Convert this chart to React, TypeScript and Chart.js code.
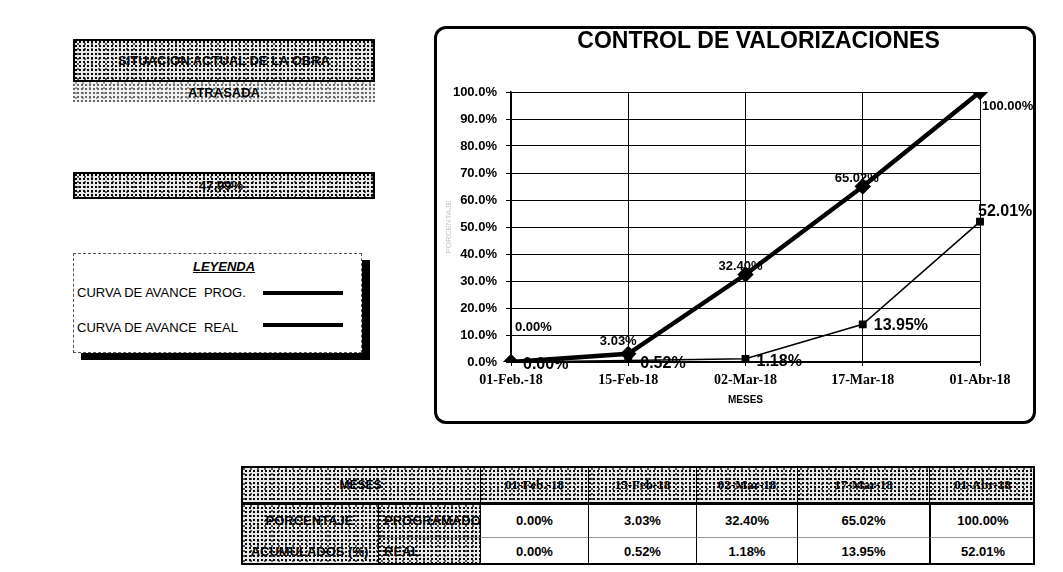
import React, { useEffect, useRef } from "react";
import { Chart, registerables } from "chart.js";

Chart.register(...registerables);

// ---------- data ----------
const categories = ["01-Feb.-18", "15-Feb-18", "02-Mar-18", "17-Mar-18", "01-Abr-18"];
const progValues = [0, 3.03, 32.4, 65.02, 100.0];
const realValues = [0, 0.52, 1.18, 13.95, 52.01];
const yMin = 0;
const yMax = 100;
const yStep = 10;
const chartTitle = "CONTROL DE VALORIZACIONES";
const xTitle = "MESES";
const yTitle = "PORCENTAJE";
const seriesNames = ["CURVA DE AVANCE  PROG.", "CURVA DE AVANCE  REAL"];
const legendTitle = "LEYENDA";
const statusTitle = "SITUACIÓN ACTUAL DE LA OBRA";
const statusValue = "ATRASADA";
const delayValue = "47.99%";
const tableHeader = "MESES";
const rowGroupLabel = ["PORCENTAJE", "ACUMULADOS (%)"];
const rowLabels = ["PROGRAMADO", "REAL"];

const SANS = "'Liberation Sans', Arial, sans-serif";
const SERIF = "'Liberation Serif', 'Times New Roman', serif";

const pct2 = (v: number) => v.toFixed(2) + "%";

// label placement relative to each point (dx, dy, alignment, font size)
const labelPlacement = [
  [
    { dx: 4, dy: -35, align: "left", size: 13 },
    { dx: -10, dy: -12, align: "center", size: 13 },
    { dx: -5, dy: -8, align: "center", size: 13 },
    { dx: -6, dy: -8, align: "center", size: 13 },
    { dx: 2, dy: 14, align: "left", size: 13 },
  ],
  [
    { dx: 12, dy: 3, align: "left", size: 16 },
    { dx: 12, dy: 3, align: "left", size: 16 },
    { dx: 11, dy: 3, align: "left", size: 16 },
    { dx: 11, dy: 1, align: "left", size: 16 },
    { dx: -2, dy: -10, align: "left", size: 16 },
  ],
];

const valueLabels = {
  id: "valueLabels",
  afterDatasetsDraw(chart: any) {
    const ctx = chart.ctx;
    ctx.save();
    ctx.fillStyle = "#000";
    ctx.textBaseline = "middle";
    chart.data.datasets.forEach((ds: any, di: number) => {
      const meta = chart.getDatasetMeta(di);
      meta.data.forEach((pt: any, i: number) => {
        const p = labelPlacement[di][i];
        ctx.font = `bold ${p.size}px ${SANS}`;
        ctx.textAlign = p.align;
        ctx.fillText(pct2(ds.data[i]), pt.x + p.dx, pt.y + p.dy);
      });
    });
    const ca = chart.chartArea;
    ctx.font = `bold 23px ${SANS}`;
    ctx.textAlign = "center";
    ctx.fillText(chartTitle, (ca.left + ca.right) / 2 + 13, 15);
    ctx.restore();
  },
};

const NOISE =
  "radial-gradient(circle at 1px 1px, #000 0.7px, transparent 1.1px) 0 0 / 4px 4px, " +
  "radial-gradient(circle at 1px 1px, #222 0.6px, transparent 1px) 2px 2px / 7px 5px, #e8e8e8";

function ChartBox() {
  const ref = useRef<HTMLCanvasElement | null>(null);
  useEffect(() => {
    if (!ref.current) return;
    const chart = new Chart(ref.current, {
      type: "line",
      data: {
        labels: categories,
        datasets: [
          {
            label: seriesNames[0],
            data: progValues,
            borderColor: "#000",
            backgroundColor: "#000",
            borderWidth: 4.5,
            pointStyle: "rectRot",
            pointRadius: 5,
            pointBackgroundColor: "#000",
            pointBorderColor: "#000",
            tension: 0,
          },
          {
            label: seriesNames[1],
            data: realValues,
            borderColor: "#000",
            backgroundColor: "#000",
            borderWidth: 1.5,
            pointStyle: "rect",
            pointRadius: 4.5,
            pointBackgroundColor: "#000",
            pointBorderColor: "#000",
            tension: 0,
          },
        ],
      },
      options: {
        animation: false,
        responsive: false,
        maintainAspectRatio: false,
        layout: { padding: { left: 0, right: 55, top: 65, bottom: 0 } },
        plugins: {
          legend: { display: false },
          tooltip: { enabled: false },
          title: { display: false },
        },
        scales: {
          x: {
            offset: false,
            grid: { color: "#000", lineWidth: 1, tickLength: 4 },
            border: { color: "#000", width: 1.5 },
            ticks: {
              color: "#000",
              font: { family: SERIF, size: 14, weight: "bold" },
              padding: 6,
              maxRotation: 0,
              autoSkip: false,
            },
            title: {
              display: true,
              text: xTitle,
              color: "#000",
              font: { family: SANS, size: 10, weight: "bold" },
              padding: { top: 0, bottom: 17 },
            },
            afterFit: (s: any) => {
              s.height = 61;
            },
          },
          y: {
            min: yMin,
            max: yMax,
            grid: { color: "#000", lineWidth: 1, tickLength: 5 },
            border: { color: "#000", width: 1.5 },
            ticks: {
              stepSize: yStep,
              color: "#000",
              font: { family: SANS, size: 13, weight: "bold" },
              padding: 9,
              callback: (v: any) => Number(v).toFixed(1) + "%",
            },
            title: {
              display: true,
              text: yTitle,
              color: "#c4c4c4",
              font: { family: SANS, size: 8 },
              padding: { top: 9, bottom: 0 },
            },
            afterFit: (s: any) => {
              s.width = 76;
            },
          },
        },
      },
      plugins: [valueLabels],
    } as any);
    return () => chart.destroy();
  }, []);
  return (
    <>
      <div
        style={{
          position: "absolute",
          left: 434,
          top: 26,
          width: 602,
          height: 398,
          border: "3px solid #000",
          borderRadius: 12,
          boxSizing: "border-box",
        }}
      />
      <canvas
        ref={ref}
        width={600}
        height={396}
        style={{ position: "absolute", left: 435, top: 27, width: 600, height: 396 }}
      />
    </>
  );
}

function LeftPanel() {
  const boxText: React.CSSProperties = {
    position: "absolute",
    left: 0,
    width: "100%",
    textAlign: "center",
    font: `bold 13px ${SANS}`,
    color: "#000",
    whiteSpace: "nowrap",
  };
  return (
    <>
      {/* status box */}
      <div style={{ position: "absolute", left: 73, top: 80, width: 302, height: 22, background: NOISE, opacity: 0.6 }} />
      <div
        style={{
          position: "absolute",
          left: 73,
          top: 39,
          width: 302,
          height: 43,
          border: "2px solid #000",
          boxSizing: "border-box",
          background: NOISE,
        }}
      >
        <div style={{ ...boxText, top: 12 }}>{statusTitle}</div>
      </div>
      <div style={{ position: "absolute", left: 73, top: 85, width: 302, textAlign: "center", font: `bold 13px ${SANS}` }}>
        {statusValue}
      </div>
      {/* delay box */}
      <div
        style={{
          position: "absolute",
          left: 73,
          top: 172,
          width: 302,
          height: 27,
          border: "2px solid #000",
          boxSizing: "border-box",
          background: NOISE,
        }}
      >
        <div style={{ ...boxText, top: 4, left: -3 }}>{delayValue}</div>
      </div>
      {/* legend box */}
      <div
        style={{
          position: "absolute",
          left: 73,
          top: 253,
          width: 289,
          height: 100,
          border: "1px dashed #555",
          boxSizing: "border-box",
          background: "#fff",
          boxShadow: "8px 7px 0 0 #000",
        }}
      />
      <div
        style={{
          position: "absolute",
          left: 150,
          top: 259,
          width: 148,
          textAlign: "center",
          font: `italic bold 13px ${SANS}`,
          textDecoration: "underline",
        }}
      >
        {legendTitle}
      </div>
      <div style={{ position: "absolute", left: 77, top: 285, font: `13px ${SANS}`, whiteSpace: "pre" }}>
        {seriesNames[0]}
      </div>
      <div style={{ position: "absolute", left: 263, top: 291, width: 80, height: 4, background: "#000" }} />
      <div style={{ position: "absolute", left: 77, top: 320, font: `13px ${SANS}`, whiteSpace: "pre" }}>
        {seriesNames[1]}
      </div>
      <div style={{ position: "absolute", left: 263, top: 323, width: 80, height: 3.5, background: "#000" }} />
    </>
  );
}

const colEdges = [480, 588, 696, 797, 929, 1035];

function DataTable() {
  const top = 466;
  const headerBottom = 503;
  const rowMid = 537;
  const bottom = 565;
  const left = 241;
  const labelSplit = 378;
  const cells: React.ReactNode[] = [];
  const center: React.CSSProperties = {
    position: "absolute",
    display: "flex",
    alignItems: "center",
    justifyContent: "center",
    whiteSpace: "nowrap",
    overflow: "hidden",
    boxSizing: "border-box",
  };
  // header row
  cells.push(
    <div key="h0" style={{ ...center, left, top, width: colEdges[0] - left, height: headerBottom - top, background: NOISE, font: `bold 12px ${SANS}` }}>
      {tableHeader}
    </div>
  );
  categories.forEach((c, i) => {
    cells.push(
      <div
        key={"h" + (i + 1)}
        style={{
          ...center,
          left: colEdges[i],
          top,
          width: colEdges[i + 1] - colEdges[i],
          height: headerBottom - top,
          background: NOISE,
          font: `bold 13px ${SERIF}`,
          borderLeft: "1.5px solid #000",
        }}
      >
        {c}
      </div>
    );
  });
  // row labels
  cells.push(
    <div key="g" style={{ position: "absolute", left, top: headerBottom, width: labelSplit - left, height: bottom - headerBottom, background: NOISE }} />
  );
  cells.push(
    <div key="g1" style={{ ...center, left, top: headerBottom, width: labelSplit - left, height: rowMid - headerBottom, font: `bold 13px ${SANS}` }}>
      {rowGroupLabel[0]}
    </div>
  );
  cells.push(
    <div key="g2" style={{ ...center, left, top: rowMid, width: labelSplit - left, height: bottom - rowMid, font: `bold 13px ${SANS}` }}>
      {rowGroupLabel[1]}
    </div>
  );
  const rows = [progValues, realValues];
  const rowTops = [headerBottom, rowMid];
  const rowBottoms = [rowMid, bottom];
  rows.forEach((vals, r) => {
    cells.push(
      <div
        key={"rl" + r}
        style={{
          ...center,
          justifyContent: "flex-start",
          paddingLeft: 5,
          left: labelSplit,
          top: rowTops[r],
          width: colEdges[0] - labelSplit,
          height: rowBottoms[r] - rowTops[r],
          background: NOISE,
          borderLeft: "1.5px solid #000",
          borderTop: r === 1 ? "1px solid #888" : "none",
          font: `bold 13px ${SANS}`,
        }}
      >
        {rowLabels[r]}
      </div>
    );
    vals.forEach((v, i) => {
      cells.push(
        <div
          key={"v" + r + "-" + i}
          style={{
            ...center,
            left: colEdges[i],
            top: rowTops[r],
            width: colEdges[i + 1] - colEdges[i],
            height: rowBottoms[r] - rowTops[r],
            borderLeft: i === 4 ? "2px solid #000" : "1px solid #000",
            borderTop: r === 1 ? "1px solid #999" : "none",
            font: `bold 13px ${SANS}`,
            background: "#fff",
          }}
        >
          {pct2(v)}
        </div>
      );
    });
  });
  return (
    <>
      {cells}
      <div style={{ position: "absolute", left, top: headerBottom - 1, width: colEdges[5] - left, height: 3, background: "#000" }} />
      <div
        style={{
          position: "absolute",
          left,
          top,
          width: colEdges[5] - left,
          height: bottom - top,
          border: "2px solid #000",
          boxSizing: "border-box",
          pointerEvents: "none",
        }}
      />
    </>
  );
}

export default function App() {
  return (
    <div
      style={{
        position: "absolute",
        left: 0,
        top: 0,
        width: 1063,
        height: 572,
        overflow: "hidden",
        background: "#fff",
        fontFamily: SANS,
      }}
    >
      <LeftPanel />
      <ChartBox />
      <DataTable />
    </div>
  );
}
